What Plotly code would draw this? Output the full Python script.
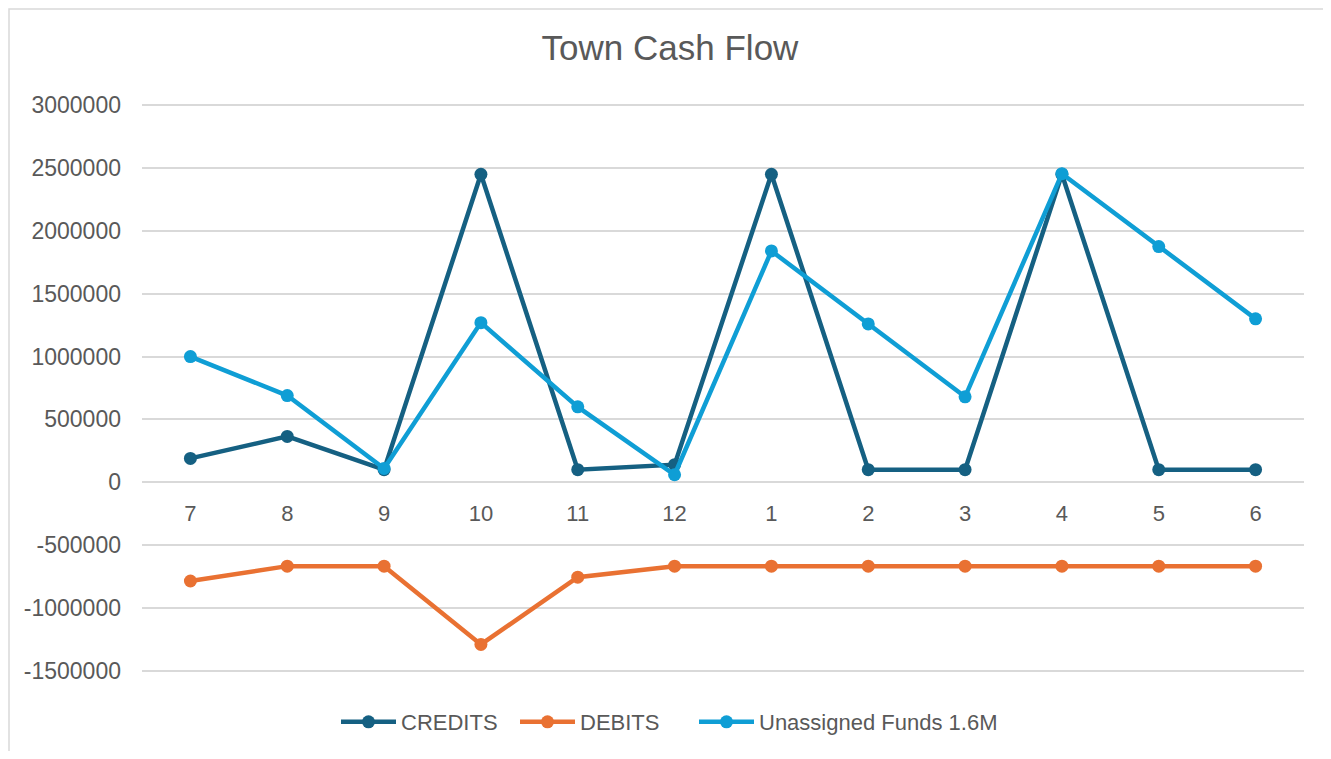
import plotly.graph_objects as go

# ---- data ----
months = ["7", "8", "9", "10", "11", "12", "1", "2", "3", "4", "5", "6"]
credits = [190000, 365000, 100000, 2450000, 100000, 140000, 2450000, 100000, 100000, 2450000, 100000, 100000]
debits = [-785000, -667000, -667000, -1290000, -755000, -667000, -667000, -667000, -667000, -667000, -667000, -667000]
unassigned = [1000000, 690000, 110000, 1270000, 600000, 60000, 1840000, 1260000, 680000, 2455000, 1875000, 1300000]
y_tickvals = [-1500000, -1000000, -500000, 0, 500000, 1000000, 1500000, 2000000, 2500000, 3000000]
y_ticktext = ["-1500000", "-1000000", "-500000", "0", "500000", "1000000", "1500000", "2000000", "2500000", "3000000"]

# ---- layout geometry (page pixels) ----
PAGE_W, PAGE_H = 1331, 759
OFF = 8                      # default body margin of the html page
W, H = PAGE_W - 2 * OFF, PAGE_H - 2 * OFF
L, R, T, B = 142, 1304, 104, 672   # plot area in page pixels
pw, ph = R - L, B - T

def px_x(x):
    return (x - L) / pw

def px_y(y):
    return (B - y) / ph

def cont_x(x):
    return (x - OFF) / W

def cont_y(y):
    return 1 - (y - OFF) / H

FONT = "Liberation Sans"
TXT = "#595959"
GRID = "#D9D9D9"

fig = go.Figure()
series = [
    ("CREDITS", credits, "#156082", "legend", 336),
    ("DEBITS", debits, "#E97132", "legend2", 515),
    ("Unassigned Funds 1.6M", unassigned, "#0F9ED5", "legend3", 694),
]
legend_layouts = {}
for name, vals, col, lg, lx in series:
    fig.add_trace(go.Scatter(
        x=months, y=vals, name=name, mode="lines+markers",
        line=dict(color=col, width=4.5),
        marker=dict(color=col, size=13),
        legend=lg,
    ))
    legend_layouts[lg] = dict(
        orientation="h", xref="container", yref="container",
        x=cont_x(lx), xanchor="left",
        y=cont_y(722), yanchor="middle",
        font=dict(size=22, color=TXT, family=FONT),
        itemwidth=55, bgcolor="rgba(0,0,0,0)",
    )

ymin, ymax = y_tickvals[0], y_tickvals[-1]
eps = (ymax - ymin) * 0.002
r0, r1 = ymin - eps, ymax + eps

fig.update_layout(
    width=W, height=H,
    margin=dict(l=L - OFF, r=(OFF + W) - R, t=T - OFF, b=(OFF + H) - B, pad=0, autoexpand=False),
    paper_bgcolor="white", plot_bgcolor="white",
    font=dict(family=FONT, color=TXT, size=22),
    title=dict(text="Town Cash Flow", x=cont_x(670), xref="container", xanchor="center",
               y=cont_y(48), yref="container", yanchor="middle",
               font=dict(size=35, color=TXT, family=FONT)),
    showlegend=True,
    xaxis=dict(type="category", categoryorder="array", categoryarray=months,
               range=[-0.5, len(months) - 0.5], autorange=False,
               anchor="free", position=(0 - r0) / (r1 - r0),
               showgrid=False, showline=False, zeroline=False, ticks="",
               ticklabelstandoff=16,
               tickfont=dict(size=22, color=TXT, family=FONT)),
    yaxis=dict(range=[r0, r1], autorange=False, tickvals=y_tickvals, ticktext=y_ticktext,
               showgrid=True, gridcolor=GRID, gridwidth=1.5,
               zeroline=False, showline=False, ticks="",
               ticklabelstandoff=20,
               tickfont=dict(size=23, color=TXT, family=FONT)),
    shapes=[dict(type="rect", xref="paper", yref="paper",
                 x0=px_x(OFF + 1), x1=px_x(PAGE_W + 20), y0=px_y(PAGE_H + 20), y1=px_y(OFF + 1),
                 line=dict(color=GRID, width=1.5), layer="below")],
    **legend_layouts,
)

fig.write_html("out.html")
